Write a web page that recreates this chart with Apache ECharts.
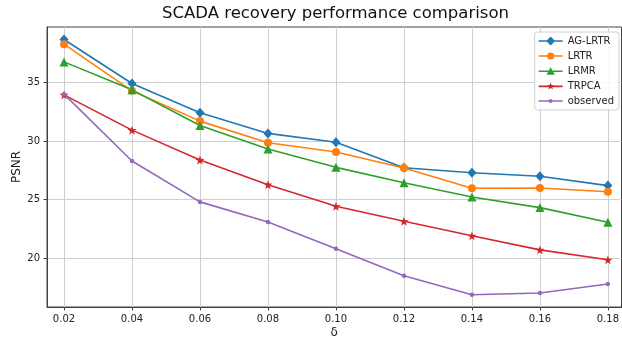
<!DOCTYPE html>
<html>
<head>
<meta charset="utf-8">
<script src="https://cdn.jsdelivr.net/npm/echarts@6/dist/echarts.min.js"></script>
<style>
html,body{margin:0;padding:0;background:#fff;}
#chart{width:622px;height:341px;}
</style>
</head>
<body>
<div id="chart"></div>
<script>
const deltas = [0.02, 0.04, 0.06, 0.08, 0.10, 0.12, 0.14, 0.16, 0.18];
const agLrtr = [38.67, 34.91, 32.41, 30.65, 29.89, 27.72, 27.29, 26.99, 26.19];
const lrtr = [38.27, 34.29, 31.70, 29.85, 29.06, 27.69, 25.96, 25.98, 25.67];
const lrmr = [36.76, 34.37, 31.33, 29.31, 27.75, 26.43, 25.22, 24.31, 23.06];
const trpca = [33.94, 30.93, 28.38, 26.27, 24.43, 23.15, 21.90, 20.70, 19.85];
const observed = [34.00, 28.29, 24.80, 23.09, 20.79, 18.49, 16.87, 17.01, 17.78];
const xTicks = [0.02, 0.04, 0.06, 0.08, 0.10, 0.12, 0.14, 0.16, 0.18];
const yTicks = [20, 25, 30, 35];

const FONT = 'DejaVu Sans';
const STAR = 'path://M0,-10 L2.35,-3.24 9.51,-3.09 3.8,1.24 5.88,8.09 0,4 -5.88,8.09 -3.8,1.24 -9.51,-3.09 -2.35,-3.24 Z';

// legend icons: line + marker, drawn in a 24x10 box
const LINE = 'M0,4.2 H24 V5.8 H0 Z ';
const ICONS = {
  'AG-LRTR': 'path://' + LINE + 'M12,0.5 L16.5,5 L12,9.5 L7.5,5 Z',
  'LRTR': 'path://' + LINE + 'M8.4,5 A3.6,3.6 0 1,1 15.6,5 A3.6,3.6 0 1,1 8.4,5 Z',
  'LRMR': 'path://' + LINE + 'M12,1 L16.2,8.6 L7.8,8.6 Z',
  'TRPCA': 'path://' + LINE + 'M12,1 L12.94,3.7 L15.8,3.76 L13.52,5.5 L14.35,8.24 L12,6.6 L9.65,8.24 L10.48,5.5 L8.2,3.76 L11.06,3.7 Z',
  'observed': 'path://' + LINE + 'M10,5 A2,2 0 1,1 14,5 A2,2 0 1,1 10,5 Z'
};

function pairs(vals){ return deltas.map((d,i)=>[d, vals[i]]); }
function mk(name, vals, color, symbol, size){
  return {
    name: name, type: 'line', data: pairs(vals),
    symbol: symbol, symbolSize: size, showAllSymbol: true,
    lineStyle: {color: color, width: 1.6},
    itemStyle: {color: color},
    emphasis: {disabled: true},
    animation: false, z: 3
  };
}

const names = ['AG-LRTR', 'LRTR', 'LRMR', 'TRPCA', 'observed'];

const chart = echarts.init(document.getElementById('chart'), null, {renderer: 'canvas'});
chart.setOption({
  animation: false,
  backgroundColor: '#fff',
  title: {
    text: 'SCADA recovery performance comparison',
    left: 162, top: 5, padding: 0,
    textStyle: {fontFamily: FONT, fontSize: 16.5, fontWeight: 'normal', color: '#111'}
  },
  legend: {
    orient: 'vertical', right: 3, top: 32, padding: [4, 5, 4, 4],
    itemWidth: 24, itemHeight: 10, itemGap: 5,
    backgroundColor: 'rgba(255,255,255,0.85)', borderColor: '#d0d0d0', borderWidth: 1, borderRadius: 3,
    textStyle: {fontFamily: FONT, fontSize: 10, color: '#222'},
    itemStyle: {borderWidth: 0},
    lineStyle: {width: 0},
    data: names.map(n => ({name: n, icon: ICONS[n]}))
  },
  grid: {left: 47, right: 0.5, top: 27, bottom: 34, show: true, borderColor: '#444', borderWidth: 1,
    containLabel: false, outerBoundsMode: 'none'},
  xAxis: {
    type: 'value', min: 0.015, max: 0.184,
    name: 'δ', nameLocation: 'middle', nameGap: 20, nameMoveOverlap: false,
    nameTextStyle: {fontFamily: FONT, fontSize: 12, color: '#222'},
    axisLine: {show: true, onZero: false, lineStyle: {color: '#444', width: 1}},
    axisTick: {show: true, length: 3.5, lineStyle: {color: '#444'}, customValues: xTicks},
    axisLabel: {fontFamily: FONT, fontSize: 10, color: '#222', margin: 7, customValues: xTicks,
      formatter: v => v.toFixed(2)},
    splitLine: {show: true, lineStyle: {color: '#cfcfcf', width: 1}}
  },
  yAxis: {
    type: 'value', min: 15.82, max: 39.74,
    name: 'PSNR', nameLocation: 'middle', nameGap: 24, nameMoveOverlap: false,
    nameTextStyle: {fontFamily: FONT, fontSize: 12, color: '#222'},
    axisLine: {show: true, onZero: false, lineStyle: {color: '#444', width: 1}},
    axisTick: {show: true, length: 3.5, lineStyle: {color: '#444'}, customValues: yTicks},
    axisLabel: {fontFamily: FONT, fontSize: 10, color: '#222', margin: 7, customValues: yTicks},
    splitLine: {show: true, lineStyle: {color: '#cfcfcf', width: 1}}
  },
  series: [
    mk('AG-LRTR', agLrtr, '#1f77b4', 'diamond', [9, 10]),
    mk('LRTR', lrtr, '#ff7f0e', 'circle', 8),
    mk('LRMR', lrmr, '#2ca02c', 'triangle', 9),
    mk('TRPCA', trpca, '#d62728', STAR, 9),
    mk('observed', observed, '#9467bd', 'circle', 4.5)
  ]
});
</script>
</body>
</html>
